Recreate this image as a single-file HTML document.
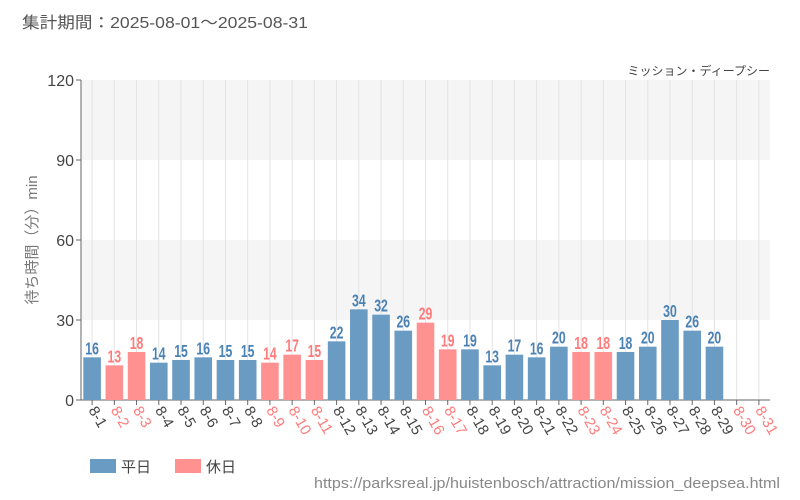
<!DOCTYPE html><html><head><meta charset="utf-8"><style>body{margin:0;background:#fff}svg{display:block}text{font-family:"Liberation Sans","Noto Sans CJK JP",sans-serif}</style></head><body>
<svg width="800" height="500" xmlns="http://www.w3.org/2000/svg">
<text x="22" y="28" font-size="16" fill="#555" textLength="286" lengthAdjust="spacingAndGlyphs">集計期間：2025-08-01～2025-08-31</text>
<text x="770" y="75" font-size="12" fill="#444" text-anchor="end">ミッション・ディープシー</text>
<rect x="81" y="80" width="689" height="80" fill="#f5f5f5"/>
<rect x="81" y="240" width="689" height="80" fill="#f5f5f5"/>
<g id="g" stroke="#e3e3e3" stroke-width="1"></g>
<line x1="81" y1="80" x2="81" y2="400" stroke="#666"/>
<line x1="81" y1="400" x2="770" y2="400" stroke="#666"/>
<g font-size="16" fill="#444" text-anchor="end">
<text x="74" y="86">120</text><text x="74" y="166">90</text><text x="74" y="246">60</text><text x="74" y="326">30</text><text x="74" y="406">0</text></g>
<g stroke="#666"><line x1="76" y1="80" x2="81" y2="80"/><line x1="76" y1="160" x2="81" y2="160"/><line x1="76" y1="240" x2="81" y2="240"/><line x1="76" y1="320" x2="81" y2="320"/><line x1="76" y1="400" x2="81" y2="400"/></g>
<text transform="translate(37,240) rotate(-90)" font-size="15" fill="#777" text-anchor="middle">待ち時間（分）min</text>
<g id="b"></g>
<rect x="90" y="459" width="26" height="14" fill="#6a9bc3"/><text x="121" y="472" font-size="15" fill="#444">平日</text>
<rect x="175" y="459" width="26" height="14" fill="#ff9191"/><text x="206" y="472" font-size="15" fill="#444">休日</text>
<text x="314" y="488" font-size="15" fill="#888" textLength="466" lengthAdjust="spacingAndGlyphs">https://parksreal.jp/huistenbosch/attraction/mission_deepsea.html</text>
</svg>
<script>
var v=[16,13,18,14,15,16,15,15,14,17,15,22,34,32,26,29,19,19,13,17,16,20,18,18,18,20,30,26,20,null,null];
var h=[2,3,9,10,11,16,17,23,24,30,31];
var g=document.getElementById('g'),b=document.getElementById('b'),s='',t='';
for(var i=0;i<31;i++){var c=81+22.226*(i+0.5),hol=h.indexOf(i+1)>=0,col=hol?'#ff9191':'#6a9bc3',tc=hol?'#ff7b7b':'#4a82b4';
s+='<line x1="'+c+'" y1="80" x2="'+c+'" y2="400"/>';
t+='<line x1="'+c+'" y1="400" x2="'+c+'" y2="405" stroke="#666"/>';
if(v[i]!=null){var y=400-v[i]*8/3;t+='<rect x="'+(c-8.8)+'" y="'+y+'" width="17.6" height="'+(400-y)+'" fill="'+col+'"/>';
t+='<text x="'+c+'" y="'+(y-3)+'" font-size="18" font-weight="bold" fill="'+tc+'" text-anchor="middle" transform="translate('+c+','+(y-3)+') scale(0.68,1) translate('+(-c)+','+(-(y-3))+')">'+v[i]+'</text>';}
t+='<text transform="translate('+(c-4)+',410) rotate(60)" font-size="15" fill="'+(hol?'#ff7b7b':'#444')+'">8-'+(i+1)+'</text>';}
g.innerHTML=s;b.innerHTML=t;
</script>
</body></html>
